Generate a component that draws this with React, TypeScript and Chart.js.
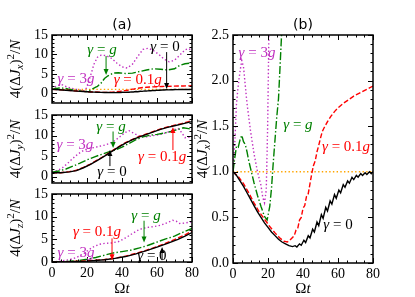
import React, { useEffect, useRef } from 'react';
import { Chart, registerables } from 'chart.js';

Chart.register(...registerables);

type Pt = [number, number];

// ---- Data: 4(ΔJx)^2/N ----
const jxGamma0: Pt[] = [
  [0, 1.0], [2, 0.96], [4, 0.9], [6, 0.84], [8, 0.77], [10, 0.7], [12, 0.63], [14, 0.56], [16, 0.5],
  [18, 0.44], [20, 0.39], [22, 0.34], [24, 0.3], [26, 0.26], [28, 0.23], [30, 0.21], [32, 0.19], [34, 0.18],
  [35.5, 0.19], [36.5, 0.175], [38, 0.21], [39, 0.195], [40.5, 0.25], [41.5, 0.225], [43, 0.3], [44, 0.275],
  [45.5, 0.37], [46.5, 0.34], [48, 0.45], [49, 0.41], [50.5, 0.53], [51.5, 0.49], [53, 0.61], [54, 0.57],
  [55.5, 0.68], [56.5, 0.645], [58, 0.75], [59, 0.71], [60.5, 0.8], [61.5, 0.77], [63, 0.86], [64, 0.83],
  [65.5, 0.9], [66.5, 0.875], [68, 0.94], [69, 0.915], [70.5, 0.96], [71.5, 0.94], [73, 0.98], [74, 0.96],
  [75.5, 0.99], [76.5, 0.97], [78, 1.0], [79, 0.98], [80, 1.0],
];
const jxGamma01: Pt[] = [
  [0, 1.0], [3, 0.95], [6, 0.87], [9, 0.77], [12, 0.66], [15, 0.56], [18, 0.48], [21, 0.4], [24, 0.33],
  [27, 0.27], [29, 0.24], [31, 0.23], [32.5, 0.25], [34, 0.28], [35, 0.3], [36, 0.36], [37, 0.38],
  [38, 0.47], [39, 0.5], [40, 0.6], [41, 0.63], [42, 0.73], [43, 0.76], [44, 0.87], [45, 0.98], [46, 1.07],
  [47, 1.12], [48, 1.22], [49, 1.29], [50, 1.37], [51, 1.44], [52, 1.48], [54, 1.55], [56, 1.61], [58, 1.66],
  [60, 1.7], [63, 1.75], [66, 1.79], [69, 1.83], [72, 1.86], [75, 1.89], [78, 1.92], [80, 1.94],
];
const jxGammaG: Pt[] = [
  [0, 1.0], [1, 1.15], [2, 1.28], [3, 1.27], [4, 1.35], [5, 1.4], [6, 1.33], [7, 1.3], [8, 1.22], [9, 1.12],
  [10, 1.04], [12, 0.88], [14, 0.74], [16, 0.62], [18, 0.51], [19.5, 0.47], [21, 0.62], [22, 0.82], [23, 1.1],
  [24, 1.35], [25, 1.6], [26, 1.8], [27, 2.2], [28, 2.6], [29, 3.2], [30, 3.8], [32, 4.5], [35, 5.2], [38, 5.3],
  [42, 5.1], [46, 5.2], [50, 5.6], [54, 6.0], [58, 6.3], [62, 6.2], [66, 6.0], [70, 6.3], [73, 7.2], [76, 7.6],
  [80, 7.8],
];
const jxGamma3g: Pt[] = [
  [0, 1.0], [1, 1.3], [2, 1.75], [3, 1.95], [4, 2.1], [5, 2.22], [6, 2.15], [7, 1.95], [8, 1.75], [10, 1.45],
  [12, 1.2], [14, 1.0], [16, 0.85], [17, 0.72], [18, 0.66], [19, 0.8], [19.8, 1.5], [20.5, 2.5], [21.2, 3.4],
  [22, 4.5], [23, 6.0], [24, 7.5], [26, 9.3], [28, 9.8], [31, 9.7], [34, 9.0], [37, 7.8], [40, 6.8], [43, 6.5],
  [46, 7.5], [49, 9.5], [52, 11.3], [55, 11.6], [58, 11.0], [61, 10.0], [64, 8.8], [67, 8.1], [70, 8.5],
  [73, 9.8], [76, 11.2], [78, 11.5], [80, 11.0],
];
const jxCoherent: Pt[] = [[0, 1.0], [80, 1.0]];

// ---- Data: 4(ΔJy)^2/N ----
const jyGamma0: Pt[] = [
  [0, 1.0], [5, 1.0], [10, 1.2], [14, 1.5], [18, 2.2], [22, 3.0], [26, 4.0], [30, 5.0], [34, 6.1], [38, 7.2],
  [42, 8.2], [46, 9.0], [50, 9.7], [54, 10.3], [58, 10.9], [62, 11.5], [66, 12.0], [70, 12.4], [74, 12.8],
  [78, 13.2], [80, 13.4],
];
const jyGamma01: Pt[] = [
  [0, 1.0], [5, 1.0], [10, 1.25], [14, 1.6], [18, 2.3], [22, 3.1], [26, 4.1], [30, 5.1], [34, 6.2], [38, 7.3],
  [42, 8.3], [46, 9.1], [50, 9.8], [54, 10.4], [58, 11.0], [62, 11.6], [66, 12.1], [70, 12.5], [74, 12.9],
  [78, 13.4], [80, 13.7],
];
const jyGammaG: Pt[] = [
  [0, 1.1], [4, 1.4], [8, 1.9], [12, 2.6], [16, 3.3], [20, 4.1], [24, 4.8], [28, 5.4], [32, 6.0], [36, 6.5],
  [40, 7.2], [44, 8.1], [48, 9.0], [52, 9.7], [56, 10.1], [60, 10.3], [64, 10.6], [68, 11.0], [72, 11.5],
  [75, 11.9], [78, 11.7], [80, 11.5],
];
const jyGamma3g: Pt[] = [
  [0, 1.2], [3, 1.5], [6, 2.2], [9, 3.3], [12, 4.5], [15, 5.6], [18, 6.4], [21, 6.9], [24, 7.1], [27, 7.4],
  [30, 7.7], [33, 8.1], [36, 8.8], [39, 9.8], [42, 10.8], [44, 11.2], [47, 10.5], [50, 9.9], [54, 9.7],
  [58, 10.0], [62, 10.3], [66, 10.8], [70, 11.5], [72, 11.7], [74, 10.8], [76, 9.5], [78, 9.6], [80, 9.8],
];

// ---- Data: 4(ΔJz)^2/N ----
const jzGamma0: Pt[] = [
  [0, 0], [10, 0.05], [20, 0.2], [30, 0.5], [36, 0.8], [42, 1.2], [48, 1.8], [54, 2.5], [60, 3.3], [66, 4.1],
  [72, 5.0], [76, 5.7], [80, 6.5],
];
const jzGamma01: Pt[] = [
  [0, 0], [10, 0.05], [20, 0.25], [30, 0.55], [36, 0.85], [42, 1.3], [48, 1.9], [54, 2.6], [60, 3.4], [66, 4.3],
  [72, 5.3], [76, 6.0], [80, 6.8],
];
const jzGammaG: Pt[] = [
  [0, 0], [5, 0.05], [10, 0.15], [15, 0.3], [20, 0.6], [25, 1.0], [30, 1.5], [35, 2.0], [40, 2.3], [45, 2.6],
  [50, 3.1], [55, 3.7], [60, 4.4], [65, 5.1], [70, 5.7], [75, 6.6], [80, 7.4],
];
const jzGamma3g: Pt[] = [
  [0, 0], [5, 0.2], [10, 0.5], [14, 1.0], [18, 1.8], [21, 2.7], [24, 3.4], [27, 3.9], [30, 4.1], [34, 4.2],
  [38, 4.5], [42, 5.3], [46, 6.3], [50, 7.2], [54, 7.6], [58, 7.8], [62, 8.1], [66, 8.7], [69, 9.2], [71, 9.0],
  [73, 8.5], [76, 8.6], [80, 8.9],
];

const xTicksA = [0, 20, 40, 60, 80];
const yTicksA = [0, 5, 10, 15];
const yTicksB = [0, 0.5, 1.0, 1.5, 2.0, 2.5];

// ---- styles ----
const BLACK = '#000000';
const RED = '#ff0000';
const GREEN = '#008000';
const MAGENTA = '#c030c0';
const ORANGE = '#ffa500';
const SERIF = '"Liberation Serif", "DejaVu Serif", serif';
const ANN = 15;

type Part = { t: string; it?: boolean; sub?: boolean; sup?: boolean };

function drawRich(ctx: CanvasRenderingContext2D, parts: Part[], x: number, y: number, size: number, color: string) {
  const fontFor = (p: Part) => `${p.it ? 'italic ' : ''}${p.sub || p.sup ? Math.round(size * 0.7) : size}px ${SERIF}`;
  let total = 0;
  const widths = parts.map((p) => {
    ctx.font = fontFor(p);
    const w = ctx.measureText(p.t).width;
    total += w;
    return w;
  });
  let cx = x - total / 2;
  ctx.fillStyle = color;
  ctx.textBaseline = 'middle';
  ctx.textAlign = 'left';
  parts.forEach((p, i) => {
    ctx.font = fontFor(p);
    const dy = p.sub ? size * 0.28 : p.sup ? -size * 0.33 : 0;
    ctx.fillText(p.t, cx, y + dy);
    cx += widths[i];
  });
}

const gammaLabel = (val: string, g: boolean): Part[] => {
  const parts: Part[] = [{ t: 'γ', it: true }, { t: ' = ' }];
  if (val) parts.push({ t: val });
  if (g) parts.push({ t: 'g', it: true });
  return parts;
};

const yLabel = (c: string): Part[] => [
  { t: '4(Δ' }, { t: 'J', it: true }, { t: c, it: true, sub: true }, { t: ')' }, { t: '2', sup: true },
  { t: '/' }, { t: 'N', it: true },
];

type Annot = { parts: Part[]; color: string; x: number; y: number; arrow?: [number, number, number] };

type Panel = {
  rect: { l: number; t: number; r: number; b: number };
  yMin: number; yMax: number; yMajor: number[]; yMinorStep: number; decimals: number;
  xMinorStep: number; showX: boolean;
  yLabelParts: Part[]; yLabelX: number;
  title?: string; titleY?: number;
  series: { data: Pt[]; color: string; dash: number[]; width: number }[];
  annots: Annot[];
};

const YW = 40;
const XH = 40;

function makeDeco(p: Panel) {
  return {
    id: 'deco',
    afterDraw(chart: any) {
      const ctx: CanvasRenderingContext2D = chart.ctx;
      const { left, right, top, bottom } = chart.chartArea;
      const xs = chart.scales.x;
      const ys = chart.scales.y;
      ctx.save();
      // frame
      ctx.strokeStyle = '#000';
      ctx.lineWidth = 1.5;
      ctx.strokeRect(left, top, right - left, bottom - top);
      ctx.lineWidth = 1;
      const tick = (x1: number, y1: number, x2: number, y2: number) => {
        ctx.beginPath();
        ctx.moveTo(x1, y1);
        ctx.lineTo(x2, y2);
        ctx.stroke();
      };
      const eps = 1e-6;
      for (let v = 0; v <= 80 + eps; v += p.xMinorStep) {
        const major = Math.abs(v % 20) < eps;
        const len = major ? 5 : 2.5;
        const px = Math.round(xs.getPixelForValue(v)) + 0.5;
        tick(px, bottom, px, bottom - len);
        tick(px, top, px, top + len);
      }
      const start = Math.ceil((p.yMin - eps) / p.yMinorStep) * p.yMinorStep;
      for (let v = start; v <= p.yMax + eps; v += p.yMinorStep) {
        const major = p.yMajor.some((m) => Math.abs(m - v) < eps);
        const len = major ? 5 : 2.5;
        const py = Math.round(ys.getPixelForValue(v)) + 0.5;
        tick(left, py, left + len, py);
        tick(right, py, right - len, py);
      }
      // y label
      ctx.save();
      ctx.translate(p.yLabelX, (top + bottom) / 2);
      ctx.rotate(-Math.PI / 2);
      drawRich(ctx, p.yLabelParts, 0, 0, 15, '#000');
      ctx.restore();
      // x label
      if (p.showX) {
        drawRich(ctx, [{ t: 'Ω' }, { t: 't', it: true }], (left + right) / 2, 289, 15, '#000');
      }
      // title
      if (p.title) {
        ctx.font = '14px "DejaVu Sans", sans-serif';
        ctx.fillStyle = '#000';
        ctx.textAlign = 'center';
        ctx.textBaseline = 'middle';
        ctx.fillText(p.title, (left + right) / 2, p.titleY ?? 25);
      }
      // annotations
      p.annots.forEach((a) => {
        if (a.arrow) {
          const ax = xs.getPixelForValue(a.arrow[0]);
          const y1 = ys.getPixelForValue(a.arrow[1]);
          const y2 = ys.getPixelForValue(a.arrow[2]);
          ctx.strokeStyle = a.color;
          ctx.fillStyle = a.color;
          ctx.lineWidth = 1;
          const dir = y2 > y1 ? 1 : -1;
          tick(ax, y1, ax, y2 - dir * 4);
          ctx.beginPath();
          ctx.moveTo(ax, y2);
          ctx.lineTo(ax - 2.5, y2 - dir * 6);
          ctx.lineTo(ax + 2.5, y2 - dir * 6);
          ctx.closePath();
          ctx.fill();
        }
        drawRich(ctx, a.parts, xs.getPixelForValue(a.x), ys.getPixelForValue(a.y), ANN, a.color);
      });
      ctx.restore();
    },
  };
}

const LW = 1.4;
const sBlack = (d: Pt[]) => ({ data: d, color: BLACK, dash: [] as number[], width: LW });
const sRed = (d: Pt[]) => ({ data: d, color: RED, dash: [5, 2.2], width: LW });
const sGreen = (d: Pt[]) => ({ data: d, color: GREEN, dash: [8, 2.2, 1.4, 2.2], width: LW });
const sMag = (d: Pt[]) => ({ data: d, color: MAGENTA, dash: [1.4, 2.3], width: LW });
const sOrange = (d: Pt[]) => ({ data: d, color: ORANGE, dash: [1.4, 2.3], width: LW });

const panels: Panel[] = [
  {
    rect: { l: 52, t: 35, r: 192, b: 103 },
    yMin: -2.5, yMax: 15, yMajor: yTicksA, yMinorStep: 1, decimals: 0, xMinorStep: 5, showX: false,
    yLabelParts: yLabel('x'), yLabelX: 16, title: '(a)', titleY: 25,
    series: [sBlack(jxGamma0), sRed(jxGamma01), sGreen(jxGammaG), sMag(jxGamma3g), sOrange(jxCoherent)],
    annots: [
      { parts: gammaLabel('', true), color: GREEN, x: 28.6, y: 11.1, arrow: [30.9, 9.6, 4.7] },
      { parts: gammaLabel('0', false), color: BLACK, x: 64.6, y: 11.9, arrow: [65.5, 10.6, 1.1] },
      { parts: gammaLabel('3', true), color: MAGENTA, x: 13.7, y: 3.7 },
      { parts: gammaLabel('0.1', true), color: RED, x: 49, y: 3.4 },
    ],
  },
  {
    rect: { l: 52, t: 115, r: 192, b: 183 },
    yMin: -1.5, yMax: 15, yMajor: yTicksA, yMinorStep: 1, decimals: 0, xMinorStep: 5, showX: false,
    yLabelParts: yLabel('y'), yLabelX: 16,
    series: [sBlack(jyGamma0), sRed(jyGamma01), sGreen(jyGammaG), sMag(jyGamma3g)],
    annots: [
      { parts: gammaLabel('', true), color: GREEN, x: 33.7, y: 12.1, arrow: [34.9, 11.0, 7.0] },
      { parts: gammaLabel('3', true), color: MAGENTA, x: 13.1, y: 7.7 },
      { parts: gammaLabel('0', false), color: BLACK, x: 34.3, y: 1.2, arrow: [33.1, 2.6, 6.5] },
      { parts: gammaLabel('0.1', true), color: RED, x: 62.9, y: 4.8, arrow: [69.1, 6.5, 12.1] },
    ],
  },
  {
    rect: { l: 52, t: 194, r: 192, b: 262 },
    yMin: 0, yMax: 15, yMajor: yTicksA, yMinorStep: 1, decimals: 0, xMinorStep: 5, showX: true,
    yLabelParts: yLabel('z'), yLabelX: 16,
    series: [sBlack(jzGamma0), sRed(jzGamma01), sGreen(jzGammaG), sMag(jzGamma3g)],
    annots: [
      { parts: gammaLabel('', true), color: GREEN, x: 53.7, y: 10.2, arrow: [52.6, 9.1, 4.3] },
      { parts: gammaLabel('0.1', true), color: RED, x: 25.7, y: 6.5, arrow: [34.3, 5.2, 0.4] },
      { parts: gammaLabel('3', true), color: MAGENTA, x: 13.7, y: 2.0 },
      { parts: gammaLabel('0', false), color: BLACK, x: 57.1, y: 1.3, arrow: [62.9, 0.4, 3.3] },
    ],
  },
  {
    rect: { l: 233, t: 35, r: 373, b: 263 },
    yMin: 0, yMax: 2.5, yMajor: yTicksB, yMinorStep: 0.1, decimals: 1, xMinorStep: 5, showX: true,
    yLabelParts: yLabel('x'), yLabelX: 203, title: '(b)', titleY: 25,
    series: [sBlack(jxGamma0), sRed(jxGamma01), sGreen(jxGammaG), sMag(jxGamma3g), sOrange(jxCoherent)],
    annots: [
      { parts: gammaLabel('3', true), color: MAGENTA, x: 13.7, y: 2.3 },
      { parts: gammaLabel('', true), color: GREEN, x: 37.1, y: 1.51 },
      { parts: gammaLabel('0.1', true), color: RED, x: 64.6, y: 1.27 },
      { parts: gammaLabel('0', false), color: BLACK, x: 60, y: 0.42 },
    ],
  },
];

function buildConfig(p: Panel): any {
  const tickFont = { family: SERIF, size: 14 };
  return {
    type: 'line',
    data: {
      datasets: p.series.map((s) => ({
        data: s.data.map(([x, y]) => ({ x, y })),
        borderColor: s.color,
        borderWidth: s.width,
        borderDash: s.dash,
        pointRadius: 0,
        fill: false,
        tension: 0,
      })),
    },
    options: {
      responsive: false,
      animation: false,
      events: [],
      layout: {
        padding: {
          left: p.rect.l - YW,
          right: 415 - p.rect.r,
          top: p.rect.t,
          bottom: 297 - p.rect.b - (p.showX ? XH : 0),
        },
      },
      plugins: { legend: { display: false }, tooltip: { enabled: false } },
      scales: {
        x: {
          type: 'linear',
          min: 0,
          max: 80,
          display: p.showX,
          grid: { display: false, drawTicks: false },
          border: { display: false },
          ticks: { font: tickFont, color: '#000', padding: 3, maxRotation: 0 },
          afterBuildTicks: (s: any) => {
            s.ticks = xTicksA.map((v) => ({ value: v }));
          },
          afterFit: (s: any) => {
            s.height = p.showX ? XH : 0;
          },
        },
        y: {
          type: 'linear',
          min: p.yMin,
          max: p.yMax,
          grid: { display: false, drawTicks: false },
          border: { display: false },
          ticks: {
            font: tickFont,
            color: '#000',
            padding: 4,
            callback: (v: number) => (p.decimals ? Number(v).toFixed(p.decimals) : String(v)),
          },
          afterBuildTicks: (s: any) => {
            s.ticks = p.yMajor.map((v) => ({ value: v }));
          },
          afterFit: (s: any) => {
            s.width = YW;
          },
        },
      },
    },
    plugins: [makeDeco(p)],
  };
}

export default function App() {
  const refs = [useRef<HTMLCanvasElement>(null), useRef<HTMLCanvasElement>(null), useRef<HTMLCanvasElement>(null), useRef<HTMLCanvasElement>(null)];
  useEffect(() => {
    const charts = panels.map((p, i) => new Chart(refs[i].current as HTMLCanvasElement, buildConfig(p)));
    return () => charts.forEach((c) => c.destroy());
  }, []);
  return (
    <div style={{ position: 'absolute', left: 0, top: 0, width: 415, height: 297, background: '#fff' }}>
      {refs.map((r, i) => (
        <canvas key={i} ref={r} width={415} height={297} style={{ position: 'absolute', left: 0, top: 0, width: 415, height: 297 }} />
      ))}
    </div>
  );
}
